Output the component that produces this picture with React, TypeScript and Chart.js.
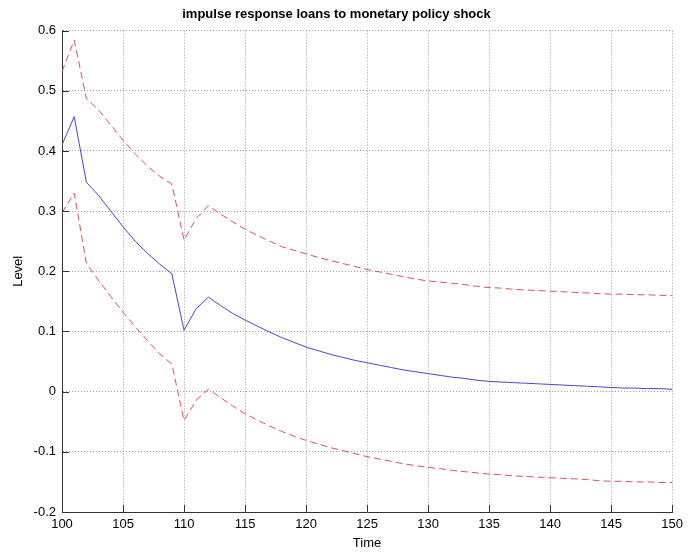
import React, { useEffect, useRef } from "react";
import { Chart, registerables } from "chart.js";

Chart.register(...registerables);

const chartTitle = "impulse response loans to monetary policy shock";
const xAxisTitle = "Time";
const yAxisTitle = "Level";

const timeSteps = [
  100, 101, 102, 103, 104, 105, 106, 107, 108, 109,
  110, 111, 112, 113, 114, 115, 116, 117, 118, 119,
  120, 121, 122, 123, 124, 125, 126, 127, 128, 129,
  130, 131, 132, 133, 134, 135, 136, 137, 138, 139,
  140, 141, 142, 143, 144, 145, 146, 147, 148, 149, 150,
];

const responseMean = [
  0.410, 0.457, 0.348, 0.326, 0.300, 0.274, 0.250, 0.230, 0.212, 0.196,
  0.102, 0.138, 0.157, 0.143, 0.130, 0.119, 0.109, 0.099, 0.090, 0.082,
  0.074, 0.068, 0.062, 0.057, 0.052, 0.048, 0.044, 0.040, 0.036, 0.033,
  0.030, 0.027, 0.024, 0.022, 0.019, 0.017, 0.016, 0.015, 0.014, 0.013,
  0.012, 0.011, 0.010, 0.009, 0.008, 0.007, 0.006, 0.006, 0.005, 0.005, 0.004,
];

const responseUpper = [
  0.532, 0.584, 0.487, 0.468, 0.443, 0.418, 0.395, 0.375, 0.358, 0.345,
  0.252, 0.288, 0.309, 0.295, 0.282, 0.270, 0.260, 0.250, 0.241, 0.235,
  0.229, 0.223, 0.218, 0.213, 0.208, 0.203, 0.199, 0.195, 0.191, 0.187,
  0.184, 0.182, 0.180, 0.178, 0.175, 0.173, 0.172, 0.170, 0.169, 0.168,
  0.167, 0.166, 0.165, 0.164, 0.163, 0.162, 0.162, 0.161, 0.161, 0.160, 0.160,
];

const responseLower = [
  0.297, 0.330, 0.213, 0.185, 0.158, 0.132, 0.108, 0.085, 0.063, 0.046,
  -0.048, -0.014, 0.004, -0.010, -0.024, -0.037, -0.047, -0.057, -0.066, -0.074,
  -0.081, -0.087, -0.093, -0.098, -0.103, -0.108, -0.112, -0.116, -0.120, -0.123,
  -0.126, -0.128, -0.131, -0.133, -0.135, -0.137, -0.138, -0.140, -0.141, -0.142,
  -0.143, -0.144, -0.145, -0.146, -0.148, -0.149, -0.149, -0.150, -0.150, -0.151, -0.151,
];

const toPoints = (vals: number[]) => vals.map((v, i) => ({ x: timeSteps[i], y: v }));

const FONT = "'Liberation Sans', Arial, Helvetica, sans-serif";

const inwardTicks = {
  id: "inwardTicks",
  afterDraw(chart: any) {
    const { ctx, chartArea, scales } = chart;
    const len = 7;
    ctx.save();
    ctx.strokeStyle = "#333333";
    ctx.lineWidth = 1;
    ctx.setLineDash([]);
    ctx.beginPath();
    scales.y.ticks.forEach((t: any) => {
      const py = Math.round(scales.y.getPixelForValue(t.value)) + 0.5;
      ctx.moveTo(chartArea.left, py);
      ctx.lineTo(chartArea.left + len, py);
    });
    scales.x.ticks.forEach((t: any) => {
      const px = Math.round(scales.x.getPixelForValue(t.value)) + 0.5;
      ctx.moveTo(px, chartArea.bottom);
      ctx.lineTo(px, chartArea.bottom - len);
    });
    ctx.stroke();
    ctx.restore();
  },
};

export default function App() {
  const ref = useRef<HTMLCanvasElement | null>(null);

  useEffect(() => {
    if (!ref.current) return;
    const chart = new Chart(ref.current, {
      type: "line",
      data: {
        datasets: [
          {
            label: "upper",
            data: toPoints(responseUpper),
            borderColor: "rgb(222,80,80)",
            borderWidth: 1,
            borderDash: [7, 4],
            pointRadius: 0,
            fill: false,
            tension: 0,
          },
          {
            label: "mean",
            data: toPoints(responseMean),
            borderColor: "rgb(70,70,210)",
            borderWidth: 1,
            pointRadius: 0,
            fill: false,
            tension: 0,
          },
          {
            label: "lower",
            data: toPoints(responseLower),
            borderColor: "rgb(222,80,80)",
            borderWidth: 1,
            borderDash: [7, 4],
            pointRadius: 0,
            fill: false,
            tension: 0,
          },
        ],
      },
      options: {
        animation: false,
        responsive: false,
        devicePixelRatio: 1,
        layout: { padding: { left: 0, right: 15, top: 0, bottom: 0 } },
        plugins: {
          legend: { display: false },
          tooltip: { enabled: false },
          title: {
            display: true,
            text: chartTitle,
            color: "#000",
            font: { family: FONT, size: 13, weight: "bold" },
            padding: { top: 7, bottom: 8 },
          },
        },
        scales: {
          x: {
            type: "linear",
            min: 100,
            max: 150,
            afterFit: (s: any) => {
              s.height = 43;
            },
            ticks: {
              stepSize: 5,
              color: "#000",
              padding: 5,
              maxRotation: 0,
              font: { family: FONT, size: 13 },
              callback: (v: any) => String(v),
            },
            grid: {
              color: "#9a9a9a",
              drawTicks: false,
              lineWidth: 1,
            },
            border: { display: true, color: "#333333", width: 1, dash: [1, 2] },
            title: {
              display: true,
              text: xAxisTitle,
              color: "#000",
              font: { family: FONT, size: 13 },
              padding: { top: 0, bottom: 4 },
            },
          },
          y: {
            type: "linear",
            min: -0.2,
            max: 0.6,
            afterFit: (s: any) => {
              s.width = 62;
            },
            ticks: {
              stepSize: 0.1,
              color: "#000",
              padding: 6,
              font: { family: FONT, size: 13 },
              callback: (v: any) => String(Number(Number(v).toFixed(1))),
            },
            grid: {
              color: "#9a9a9a",
              drawTicks: false,
              lineWidth: 1,
            },
            border: { display: true, color: "#333333", width: 1, dash: [1, 2] },
            title: {
              display: true,
              text: yAxisTitle,
              color: "#000",
              font: { family: FONT, size: 13 },
              padding: { top: 11, bottom: 0 },
            },
          },
        },
      } as any,
      plugins: [inwardTicks],
    });
    return () => chart.destroy();
  }, []);

  return (
    <div style={{ position: "absolute", left: 0, top: 0, width: 688, height: 555, background: "#fff" }}>
      <canvas ref={ref} width={688} height={555} style={{ display: "block" }} />
    </div>
  );
}
